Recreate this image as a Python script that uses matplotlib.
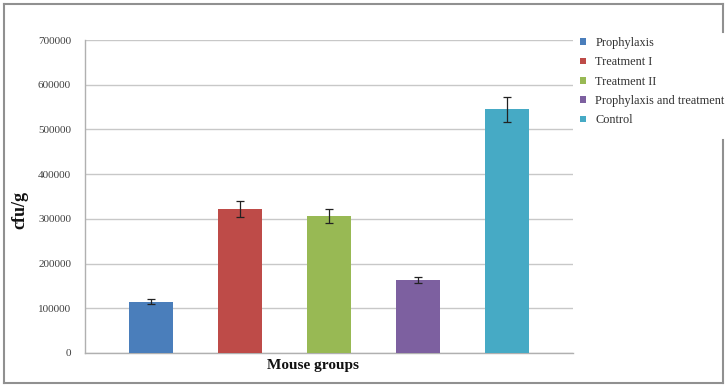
import matplotlib
matplotlib.use("Agg")
import matplotlib.pyplot as plt
from matplotlib.lines import Line2D

groups = ["Prophylaxis", "Treatment I", "Treatment II", "Prophylaxis and treatment", "Control"]
values = [115000, 322000, 307000, 163000, 545000]
errors = [6000, 17000, 16000, 7500, 28000]
colors = ["#4a7ebb", "#be4b48", "#98b954", "#7d60a0", "#46aac5"]
yticks = [0, 100000, 200000, 300000, 400000, 500000, 600000, 700000]

plt.rcParams["font.family"] = ["Liberation Serif", "DejaVu Serif"]

fig = plt.figure(figsize=(7.28, 3.86), dpi=100)
W, H = 728, 386
ax = fig.add_axes([85 / W, (H - 353) / H, (573 - 85) / W, (353 - 40) / H])

x = list(range(len(groups)))
for i in x:
    ax.bar(i, values[i], width=0.495, color=colors[i], label=groups[i], zorder=3)
ax.errorbar(x, values, yerr=errors, fmt="none", ecolor="#222222", elinewidth=0.9,
            capsize=3, capthick=0.9, zorder=4)

ax.set_xlim(-0.742, 4.742)
ax.set_ylim(0, 700000)
ax.set_yticks(yticks)
ax.set_yticklabels([str(v) for v in yticks], fontsize=8, color="#404040")
ax.set_xticks([])
ax.grid(axis="y", color="#c8c8c8", linewidth=1, zorder=0)
ax.tick_params(axis="y", length=0, pad=10)
for s in ["top", "right"]:
    ax.spines[s].set_visible(False)
for s in ["left", "bottom"]:
    ax.spines[s].set_color("#b0b0b0")
    ax.spines[s].set_linewidth(1)

fig.text(313 / W, 1 - 366 / H, "Mouse groups", ha="center", va="center",
         fontsize=11, fontweight="bold", color="#111111")
fig.text(20 / W, 1 - 210 / H, "cfu/g", ha="center", va="center", rotation=90,
         fontsize=13, fontweight="bold", color="#111111")

leg = fig.legend(loc="upper left", bbox_to_anchor=(580 / W, 1 - 37 / H), frameon=False,
                 fontsize=8.8, handlelength=0.5, handleheight=0.5, handletextpad=0.75,
                 labelspacing=0.6, borderaxespad=0, borderpad=0)
for t in leg.get_texts():
    t.set_color("#303030")

# outer border with gap on the right where the legend sits
bc = "#909090"
lw = 1.5
def fl(xs, ys):
    fig.add_artist(Line2D([xx / W for xx in xs], [1 - yy / H for yy in ys],
                          color=bc, linewidth=lw, transform=fig.transFigure))
fl([4, 723], [4, 4])
fl([4, 4], [4, 383])
fl([4, 723], [383, 383])
fl([723, 723], [4, 32])
fl([723, 723], [140, 383])

fig.savefig("out.png", dpi=100)
